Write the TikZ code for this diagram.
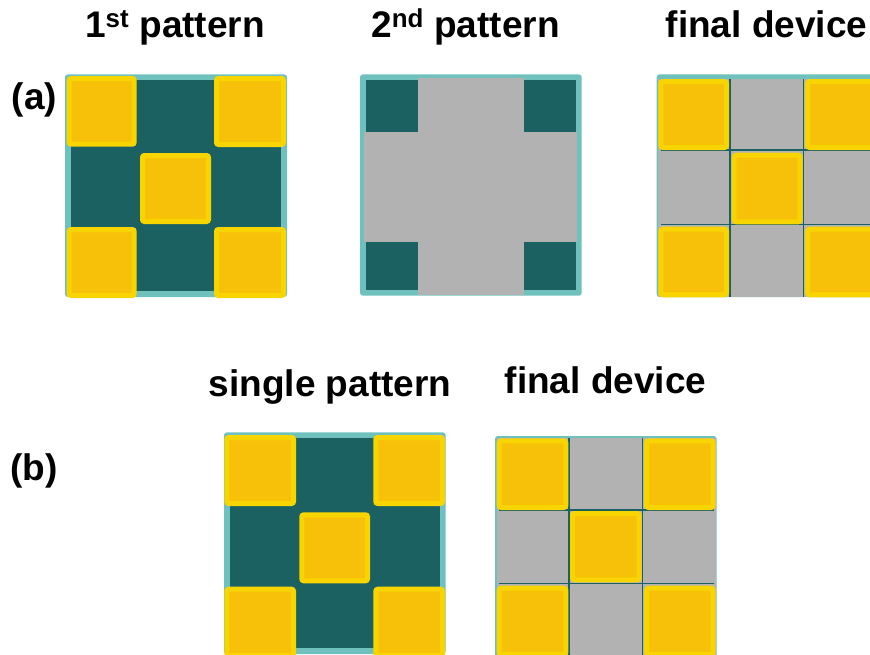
\documentclass[tikz,border=0pt]{standalone}
\usepackage{fontspec}
\setmainfont{Liberation Sans}
\definecolor{tealLight}{HTML}{6EC1BC}
\definecolor{tealDark}{HTML}{1B6162}
\definecolor{grayFill}{HTML}{B2B2B2}
\definecolor{padFill}{HTML}{F7C10A}
\definecolor{padEdge}{HTML}{F9D500}
\tikzset{
  lbl/.style={font=\bfseries\fontsize{37}{40}\selectfont, inner sep=0pt, anchor=base, text=black},
  tag/.style={font=\bfseries\fontsize{37}{40}\selectfont, inner sep=0pt, anchor=center, text=black},
  frame/.style={fill=tealLight, rounded corners=3pt},
  pad/.style={fill=padFill, draw=padEdge, line width=5pt, rounded corners=2pt},
  gridline/.style={draw=tealDark, line width=1.6pt},
}
% pad from outer corners
\newcommand{\padbox}[4]{\draw[pad] ({#1+2.5},{#2+2.5}) rectangle ({#3-2.5},{#4-2.5});}
\begin{document}
\begin{tikzpicture}[x=1pt,y=-1pt]
\useasboundingbox (0,0) rectangle (870,654);
\clip (0,0) rectangle (870,654);
\fill[white] (0,0) rectangle (870,654);

% ---- titles ----
\node[lbl] (t1) at (175,37) {1\textsuperscript{st} pattern};
\node[lbl] (t2) at (465.5,37) {2\textsuperscript{nd} pattern};
\node[lbl] (t3) at (766.5,37) {final device};
\node[tag] (ta) at (34.5,100) {(a)};
\node[lbl] (t4) at (330,396) {single pattern};
\node[lbl] (t5) at (605.5,393) {final device};
\node[tag] (tb) at (34,471) {(b)};

% ---- (a) panel 1 ----
\fill[frame] (65,74.3) rectangle (287,297);
\fill[tealDark] (70.5,80) rectangle (281,291);
\padbox{66.7}{76}{136.7}{146.7}
\padbox{214}{76}{286}{147}
\padbox{140}{153}{211}{224}
\padbox{66.7}{227}{136.7}{298}
\padbox{214}{227}{286}{298}

% ---- (a) panel 2 ----
\fill[frame] (360,74.3) rectangle (581.7,295.7);
\fill[tealDark] (366,80) rectangle (417.7,131.7);
\fill[tealDark] (524,80) rectangle (576,131.7);
\fill[tealDark] (366,241.7) rectangle (417.7,290);
\fill[tealDark] (524,241.7) rectangle (576,290);
\fill[grayFill] (417.7,78.3) rectangle (524,295);
\fill[grayFill] (364,131.7) rectangle (577,241.5);

% ---- (a) panel 3 ----
\fill[frame] (656.7,74.3) rectangle (880,297);
\fill[grayFill] (658.3,79) rectangle (880,296.7);
\draw[gridline] (730,79) -- (730,296.7);
\draw[gridline] (803.5,79) -- (803.5,296.7);
\draw[gridline] (661,150) -- (880,150);
\draw[gridline] (661,224.5) -- (880,224.5);
\padbox{658.3}{79}{729}{150}
\padbox{805}{79}{876}{150}
\padbox{731.7}{152.7}{802.7}{224.3}
\padbox{658.3}{226.7}{729}{297.3}
\padbox{805}{226.7}{876}{297.3}

% ---- (b) panel 1 ----
\fill[frame] (224,432.3) rectangle (445.7,654);
\fill[tealDark] (230,438.3) rectangle (439.5,648);
\padbox{224.3}{435}{296}{506}
\padbox{373.3}{435}{445}{506}
\padbox{299.3}{512.3}{370}{583.3}
\padbox{224.3}{586.7}{296}{658}
\padbox{373.3}{586.7}{445}{658}

% ---- (b) panel 2 ----
\fill[frame] (495,436) rectangle (716.7,660);
\fill[grayFill] (496.7,438.3) rectangle (715.7,660);
\draw[gridline] (569,438.3) -- (569,660);
\draw[gridline] (642.5,438.3) -- (642.5,660);
\draw[gridline] (499,510) -- (714,510);
\draw[gridline] (499,583.5) -- (714,583.5);
\padbox{496.7}{438.3}{568.3}{510}
\padbox{644}{438.3}{715.7}{510}
\padbox{570}{511}{641.7}{582.3}
\padbox{496.7}{585.7}{568.3}{657}
\padbox{644}{585.7}{715.7}{657}
\end{tikzpicture}
\end{document}
